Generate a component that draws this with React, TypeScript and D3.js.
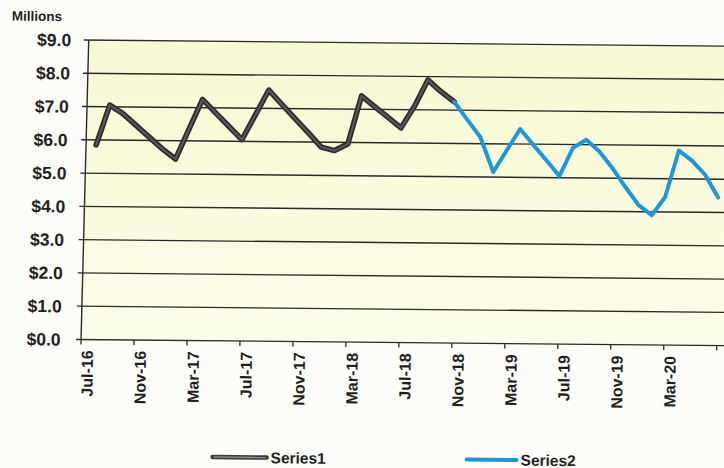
import React from 'react';
import * as d3 from 'd3';

// Monthly totals, in millions of dollars
const months1 = [
  '2016-08', '2016-09', '2016-10', '2016-11', '2016-12', '2017-01', '2017-02',
  '2017-03', '2017-04', '2017-05', '2017-06', '2017-07', '2017-08', '2017-09',
  '2017-10', '2017-11', '2017-12', '2018-01', '2018-02', '2018-03', '2018-04',
  '2018-05', '2018-06', '2018-07', '2018-08', '2018-09', '2018-10', '2018-11',
];
const series1 = [
  5.85, 7.05, 6.8, 6.45, 6.1, 5.75, 5.45,
  6.35, 7.25, 6.85, 6.45, 6.05, 6.8, 7.55,
  7.12, 6.7, 6.28, 5.85, 5.75, 5.95, 7.4,
  7.08, 6.77, 6.45, 7.1, 7.9, 7.55, 7.25,
];

const months2 = [
  '2018-11', '2018-12', '2019-01', '2019-02', '2019-03', '2019-04', '2019-05',
  '2019-06', '2019-07', '2019-08', '2019-09', '2019-10', '2019-11', '2019-12',
  '2020-01', '2020-02', '2020-03', '2020-04', '2020-05', '2020-06', '2020-07',
];
const series2 = [
  7.25, 6.72, 6.2, 5.15, 5.8, 6.45, 5.98,
  5.52, 5.05, 5.9, 6.15, 5.8, 5.3, 4.73,
  4.2, 3.9, 4.45, 5.85, 5.55, 5.13, 4.45,
];

const tickLabels = [
  'Jul-16', 'Nov-16', 'Mar-17', 'Jul-17', 'Nov-17', 'Mar-18',
  'Jul-18', 'Nov-18', 'Mar-19', 'Jul-19', 'Nov-19', 'Mar-20',
];
const yTicks = [0, 1, 2, 3, 4, 5, 6, 7, 8, 9];
const legendNames = ['Series1', 'Series2'];

// Layout
const W = 724;
const H = 468;
const X_LEFT = 84.3;
const X_RIGHT = 720;
const Y_BOTTOM = 338.7;
const Y_TOP = 39.2;
const PLOT_RIGHT = 740;
const AXIS_LEAN = 0.016;
const LABEL_LEAN = 0.026;
const TILT = 0.55;
const TICK = 5;

const FONT = '"Liberation Sans", Arial, Helvetica, sans-serif';
const INK = '#1f1f1f';
const GRID = '#2a2a2a';
const BLUE = '#2196d6';

const START_YEAR = 2016;
const START_MONTH = 7;
const SPAN_MONTHS = 48;

function monthIndex(s: string): number {
  const [yy, mm] = s.split('-').map(Number);
  return (yy - START_YEAR) * 12 + (mm - START_MONTH);
}

export default function App() {
  const x = d3.scaleLinear().domain([0, SPAN_MONTHS]).range([X_LEFT, X_RIGHT]);
  const y = d3.scaleLinear().domain([0, 9]).range([Y_BOTTOM, Y_TOP]);

  // the value axis leans slightly, as printed
  const axisX = (py: number) => X_LEFT + AXIS_LEAN * (Y_BOTTOM - py);
  const labelRight = (py: number) => X_LEFT - 20.5 + LABEL_LEAN * (Y_BOTTOM - py);

  const line = d3
    .line<[string, number]>()
    .x((d) => x(monthIndex(d[0])))
    .y((d) => y(d[1]));

  const path1 = line(months1.map((m, i) => [m, series1[i]] as [string, number])) || '';
  const path2 = line(months2.map((m, i) => [m, series2[i]] as [string, number])) || '';

  const xTickIdx = d3.range(0, SPAN_MONTHS + 1, 4);

  const plotOutline = [
    [axisX(Y_TOP), Y_TOP],
    [PLOT_RIGHT, Y_TOP],
    [PLOT_RIGHT, Y_BOTTOM],
    [axisX(Y_BOTTOM), Y_BOTTOM],
  ];

  return (
    <svg
      width={W}
      height={H}
      viewBox={`0 0 ${W} ${H}`}
      style={{ position: 'absolute', left: 0, top: 0, display: 'block' }}
    >
      <defs>
        <linearGradient id="plotFill" x1="0" y1="0" x2="0" y2="1">
          <stop offset="0%" stopColor="#f9f9d3" />
          <stop offset="55%" stopColor="#fbfbdf" />
          <stop offset="100%" stopColor="#fcfcec" />
        </linearGradient>
      </defs>
      <rect x={0} y={0} width={W} height={H} fill="#fcfcf9" />
      <g transform={`rotate(${TILT})`} fontFamily={FONT} fontWeight="bold" fill={INK}>
        <text x={12} y={20.5} fontSize={13.5}>
          Millions
        </text>

        <polygon points={plotOutline.map((p) => p.join(',')).join(' ')} fill="url(#plotFill)" />

        {/* horizontal gridlines with their tick stubs */}
        {yTicks.map((v) => (
          <line
            key={`g${v}`}
            x1={axisX(y(v)) - TICK}
            x2={PLOT_RIGHT}
            y1={y(v)}
            y2={y(v)}
            stroke={GRID}
            strokeWidth={1.4}
          />
        ))}

        {/* value axis */}
        <line
          x1={axisX(Y_TOP)}
          y1={Y_TOP}
          x2={axisX(Y_BOTTOM)}
          y2={Y_BOTTOM}
          stroke={GRID}
          strokeWidth={1.4}
        />
        {yTicks.map((v) => (
          <text
            key={`yl${v}`}
            x={labelRight(y(v))}
            y={y(v)}
            dy="0.36em"
            textAnchor="end"
            fontSize={17.5}
          >
            {`$${v.toFixed(1)}`}
          </text>
        ))}

        {/* date axis */}
        {xTickIdx.map((m) => (
          <line
            key={`xt${m}`}
            x1={x(m)}
            x2={x(m)}
            y1={Y_BOTTOM}
            y2={Y_BOTTOM + TICK}
            stroke={GRID}
            strokeWidth={1.3}
          />
        ))}
        {tickLabels.map((lab, i) => (
          <text
            key={lab}
            transform={`translate(${x(i * 4 + 0.47)},349.5) rotate(-90)`}
            dy="0.36em"
            textAnchor="end"
            fontSize={16}
          >
            {lab}
          </text>
        ))}

        {/* Series1: dark line with a lighter core */}
        <path d={path1} fill="none" stroke="#2c2c2c" strokeWidth={5.5} strokeLinejoin="round" strokeLinecap="round" />
        <path d={path1} fill="none" stroke="#5a5a5a" strokeWidth={2} strokeLinejoin="round" strokeLinecap="round" />
        {/* Series2 */}
        <path d={path2} fill="none" stroke={BLUE} strokeWidth={4} strokeLinejoin="round" strokeLinecap="round" />

        {/* legend */}
        <g>
          <line x1={217} x2={271} y1={455} y2={455} stroke="#3a3a3a" strokeWidth={4.5} strokeLinecap="round" />
          <line x1={218} x2={270} y1={455} y2={455} stroke="#8a8a8a" strokeWidth={1.5} />
          <text x={275} y={455} dy="0.36em" fontSize={15.5}>
            {legendNames[0]}
          </text>
          <line x1={471} x2={521} y1={455} y2={455} stroke={BLUE} strokeWidth={4} strokeLinecap="round" />
          <text x={525} y={455} dy="0.36em" fontSize={15.5}>
            {legendNames[1]}
          </text>
        </g>
      </g>
    </svg>
  );
}
